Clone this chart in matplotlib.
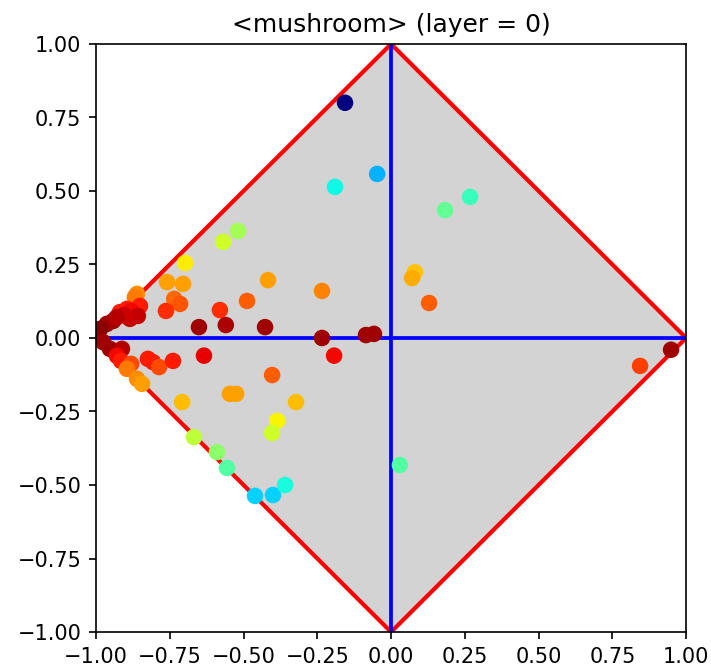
import numpy as np
import matplotlib
matplotlib.use('Agg')
import matplotlib.pyplot as plt

title = '<mushroom> (layer = 0)'

# point coordinates
xs = [-0.156, -0.047, -0.19, 0.268, 0.183, -0.519, -0.569, -0.698, -0.759, -0.705,
      -0.417, -0.488, -0.735, -0.715, -0.763, -0.58, -0.651, -0.56, -0.427, -0.634,
      -0.824, -0.807, -0.786, -0.739, -0.403, -0.546, -0.525, -0.708, -0.322, -0.386,
      -0.403, -0.668, -0.59, -0.556, -0.461, -0.4, -0.359, 0.03, 0.081, 0.071,
      -0.234, 0.129, -0.234, -0.085, -0.058, -0.193, 0.949, 0.844,
      -0.861, -0.868, -0.851, -0.895, -0.919, -0.881, -0.858, -0.885, -0.942, -0.963,
      -0.986, -0.997, -0.976, -0.953, -0.912, -0.929, -0.915, -0.881, -0.895, -0.861,
      -0.844, -0.905, -0.93]
ys = [0.80, 0.558, 0.514, 0.48, 0.435, 0.364, 0.327, 0.255, 0.19, 0.184,
      0.197, 0.126, 0.133, 0.116, 0.092, 0.095, 0.037, 0.044, 0.037, -0.06,
      -0.071, -0.082, -0.099, -0.078, -0.126, -0.19, -0.19, -0.218, -0.218, -0.282,
      -0.323, -0.337, -0.388, -0.442, -0.537, -0.534, -0.5, -0.432, 0.224, 0.204,
      0.16, 0.119, 0.0, 0.01, 0.014, -0.06, -0.04, -0.095,
      0.150, 0.139, 0.109, 0.099, 0.088, 0.092, 0.075, 0.065, 0.058, 0.048,
      0.031, 0.007, -0.014, -0.037, -0.037, -0.061, -0.078, -0.088, -0.105, -0.139,
      -0.156, 0.078, 0.07]
# colour values on the jet scale
cs = [0.0, 0.30, 0.37, 0.42, 0.47, 0.55, 0.60, 0.66, 0.74, 0.74,
      0.74, 0.81, 0.80, 0.82, 0.86, 0.86, 0.97, 0.96, 0.97, 0.91,
      0.88, 0.88, 0.83, 0.88, 0.81, 0.74, 0.74, 0.71, 0.71, 0.65,
      0.60, 0.58, 0.52, 0.45, 0.33, 0.33, 0.38, 0.45, 0.70, 0.73,
      0.77, 0.81, 0.97, 0.97, 0.97, 0.90, 0.97, 0.84,
      0.76, 0.78, 0.88, 0.88, 0.88, 0.90, 0.94, 0.94, 0.97, 0.97,
      0.99, 0.99, 0.97, 0.97, 0.95, 0.90, 0.88, 0.83, 0.78, 0.76,
      0.74, 0.93, 0.95]

diamond_x = [-1, 0, 1, 0, -1]
diamond_y = [0, 1, 0, -1, 0]

fig = plt.figure(figsize=(4.74, 4.467), dpi=150)
ax = fig.add_axes([0.135, 0.0567, 0.830, 0.8776])

ax.fill(diamond_x, diamond_y, color='lightgray', zorder=0)
ax.plot(diamond_x, diamond_y, color='red', lw=2, zorder=1)
ax.plot([-1, 1], [0, 0], color='blue', lw=1.8, zorder=1)
ax.plot([0, 0], [-1, 1], color='blue', lw=1.8, zorder=1)

ax.scatter(xs, ys, c=cs, cmap='jet', vmin=0, vmax=1, s=48, zorder=2)

ax.set_xlim(-1, 1)
ax.set_ylim(-1, 1)
ax.set_xticks(np.arange(-1, 1.01, 0.25))
ax.set_yticks(np.arange(-1, 1.01, 0.25))
ax.set_title(title)

fig.savefig('out.png', dpi=150)
